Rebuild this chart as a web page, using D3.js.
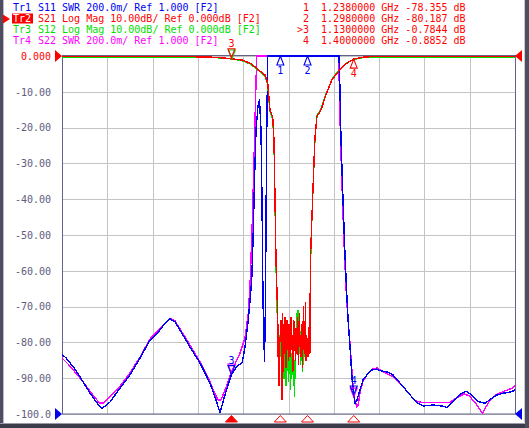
<!DOCTYPE html>
<html><head><meta charset="utf-8">
<script src="https://cdn.jsdelivr.net/npm/d3@7"></script>
<style>html,body{margin:0;padding:0;background:#fff;}svg{display:block;}text{font-family:"DejaVu Sans Mono",monospace;font-size:10px;}</style>
</head><body><svg id="c" width="529" height="428"></svg>
<script>
// ---------- data ----------
const freqStart = 0.756, freqStop = 1.756;           // GHz
const gridDivs = [0,1,2,3,4,5,6,7,8,9,10];
const dbTicks = [0,-10,-20,-30,-40,-50,-60,-70,-80,-90,-100];
const dbTickLabels = ["0.000","-10.00","-20.00","-30.00","-40.00","-50.00","-60.00","-70.00","-80.00","-90.00","-100.0"];

const headerTags = ["Tr1", "Tr2", "Tr3", "Tr4"];
const headerLines = [
  "S11 SWR 200.0m/ Ref 1.000 [F2]",
  "S21 Log Mag 10.00dB/ Ref 0.000dB [F2]",
  "S12 Log Mag 10.00dB/ Ref 0.000dB [F2]",
  "S22 SWR 200.0m/ Ref 1.000 [F2]"
];
const markerRows = [
  " 1  1.2380000 GHz -78.355 dB",
  " 2  1.2980000 GHz -80.187 dB",
  ">3  1.1300000 GHz -0.7844 dB",
  " 4  1.4000000 GHz -0.8852 dB"
];
const markerIds = ["1","2","3","4"];
const markerFreq = [1.238, 1.298, 1.13, 1.4];
const s21Marker = [-78.355, -80.187, -0.7844, -0.8852];
const s12Marker3 = -0.82;
const s11Marker = [null, null, 1.22, 1.106];
const s22Marker = [null, null, 1.235, 1.10];

// S11 (SWR)
const s11F = [0.756,0.7648,0.7737,0.7847,0.7957,0.8068,0.8178,0.8289,0.8377,0.8432,0.8487,0.8620,0.8840,0.9061,0.9282,0.9503,0.9723,0.9834,0.9944,1.0055,1.0165,1.0386,1.0606,1.0827,1.0960,1.1048,1.1137,1.1225,1.13,1.1423,1.1534,1.1600,1.1673,1.1711,1.1748,1.1777,1.1810,1.1843,1.1865,1.1887,1.1920,1.1953,1.1975,1.1997,1.2030,1.2052,1.2075,1.2101,1.2120,1.3650,1.3675,1.3697,1.3719,1.3763,1.3807,1.3845,1.3880,1.3918,1.3962,1.4,1.4028,1.4072,1.4138,1.4205,1.4293,1.4403,1.4514,1.4580,1.4735,1.4867,1.5022,1.5243,1.5419,1.5529,1.5750,1.5942,1.6052,1.6198,1.6383,1.6493,1.6604,1.6750,1.6898,1.7046,1.7156,1.7302,1.7487,1.756];
const s11V = [1.335,1.313,1.285,1.251,1.207,1.162,1.117,1.078,1.045,1.031,1.039,1.067,1.145,1.218,1.313,1.413,1.469,1.508,1.531,1.514,1.469,1.374,1.285,1.173,1.078,1.008,1.089,1.162,1.22,1.268,1.285,1.374,1.525,1.637,1.749,1.972,2.307,2.587,2.654,2.721,2.754,2.587,2.196,1.637,1.296,1.637,2.475,3.2,4.5,4.5,3.0,2.810,2.531,2.196,1.888,1.676,1.508,1.374,1.201,1.106,1.061,1.078,1.134,1.190,1.218,1.246,1.251,1.242,1.235,1.218,1.173,1.106,1.061,1.045,1.050,1.045,1.037,1.069,1.116,1.127,1.106,1.069,1.060,1.088,1.106,1.116,1.125,1.134];

// S22 (SWR)
const s22F = [0.756,0.7737,0.7957,0.8178,0.8311,0.8399,0.8465,0.8575,0.8840,0.9061,0.9282,0.9503,0.9723,0.9944,1.0055,1.0165,1.0386,1.0606,1.0827,1.0938,1.1004,1.1070,1.1159,1.1269,1.13,1.1380,1.1490,1.1600,1.1673,1.1711,1.1755,1.1799,1.1832,1.1859,1.1880,1.3660,1.3686,1.3708,1.3752,1.3796,1.3840,1.3874,1.3918,1.3962,1.4,1.4050,1.4072,1.4105,1.4139,1.4205,1.4293,1.4404,1.4514,1.4580,1.4867,1.5022,1.5243,1.5368,1.5514,1.6105,1.6252,1.6436,1.6546,1.6694,1.6840,1.6988,1.7136,1.7319,1.7503,1.756];
const s22V = [1.313,1.268,1.201,1.128,1.084,1.061,1.061,1.084,1.156,1.229,1.318,1.419,1.480,1.536,1.520,1.475,1.385,1.291,1.179,1.112,1.078,1.078,1.134,1.212,1.235,1.279,1.341,1.425,1.564,1.721,2.028,2.419,2.754,3.1,4.5,4.5,2.810,2.531,2.196,1.888,1.654,1.525,1.397,1.235,1.10,1.056,1.039,1.056,1.123,1.184,1.218,1.251,1.257,1.246,1.208,1.173,1.106,1.074,1.063,1.063,1.088,1.112,1.102,1.060,1.004,1.069,1.106,1.128,1.144,1.162];

// S21 (dB): pass-band / edges, and the noisy stop-band sweep
const s21LeftF = [0.756,0.80,0.85,0.90,0.95,1.00,1.05,1.08,1.10,1.115,1.13,1.1527,1.171,1.1821,1.1968,1.2041,1.2101,1.2114,1.2151,1.2211,1.2240,1.2262,1.2284];
const s21LeftV = [-0.2,-0.18,-0.15,-0.12,-0.15,-0.18,-0.22,-0.3,-0.42,-0.58,-0.7844,-1.1,-2.0,-3.0,-4.6,-5.3,-7.5,-9.5,-15.1,-17.0,-23.5,-40,-57];
const stopStart = 1.2306, stopStep = 0.0011;
const s21Stop = [-66,-71,-84,-75,-92,-79,-79,-78,-74,-86,-96,-72,-88,-79,-75,-83,-73,-81,-87,-78,-74,-82,-77,-85,-75,-80,-84,-76,-73,-82,-78,-81,-88,-77,-74,-80,-79,-85,-76,-78,-83,-73,-80,-86,-77,-72,-81,-78,-84,-75,-79,-87,-80,-70,-82,-77,-83,-69,-85,-78,-81,-80,-84,-76,-82,-79,-83];
const s21RightF = [1.3037,1.3052,1.3075,1.3108,1.3141,1.3185,1.3251,1.3295,1.3362,1.3428,1.3516,1.3582,1.3693,1.3847,1.4,1.4178,1.44,1.5,1.6,1.7,1.756];
const s21RightV = [-68.2,-54.2,-45.8,-34.6,-23.5,-17.0,-15.6,-14.5,-11.7,-9.5,-6.7,-5.6,-3.9,-2.0,-0.8852,-0.35,-0.18,-0.12,-0.12,-0.15,-0.2];

// S12 (dB)
const s12LeftF = [0.756,0.85,0.95,1.05,1.10,1.13,1.1527,1.171,1.1821,1.1968,1.2041,1.2101,1.2114,1.2151,1.2211,1.2240,1.2262,1.2284];
const s12LeftV = [-0.35,-0.3,-0.3,-0.35,-0.5,-0.82,-1.25,-2.2,-3.2,-4.8,-5.6,-8.0,-10.0,-15.5,-17.5,-24,-41,-58];
const s12Stop = [-70,-74,-79,-76,-82,-78,-84,-80,-77,-86,-81,-88,-79,-84,-90,-82,-86,-78,-92,-83,-87,-80,-85,-91,-82,-88,-84,-93,-86,-90,-83,-89,-84,-92,-87,-95,-85,-90,-80,-76,-72,-78,-71,-80,-74,-83,-77,-86,-79,-84,-81,-88,-82,-86,-80,-84,-82,-85,-83];
const s12RightF = [1.2990,1.3030,1.3040,1.3055,1.3078,1.3110,1.3145,1.3190,1.3255,1.3300,1.3370,1.3435,1.3520,1.3590,1.3700,1.3850,1.4,1.42,1.44,1.5,1.6,1.7,1.756];
const s12RightV = [-84,-82,-67,-53,-45,-34,-23,-16.6,-15.2,-14.0,-11.2,-9.2,-6.5,-5.3,-3.6,-1.9,-0.95,-0.45,-0.3,-0.25,-0.28,-0.3,-0.35];

// ---------- build ----------
const zip = (f, v) => f.map((d, i) => [d, v[i]]);
const sweep = (vals) => vals.map((v, i) => [stopStart + i * stopStep, v]);
const s21 = zip(s21LeftF, s21LeftV).concat(sweep(s21Stop), zip(s21RightF, s21RightV));
const s12 = zip(s12LeftF, s12LeftV).concat(sweep(s12Stop), zip(s12RightF, s12RightV));
const s11 = zip(s11F, s11V);
const s22 = zip(s22F, s22V);

const L = 62, R = 515, T = 56, B = 414;
const C = {blue:"#0000f0", red:"#ff0000", green:"#00e000", mag:"#ff00ff", frame:"#62628a", grid:"#c4c4c4", label:"#5c5c7c"};

const x = d3.scaleLinear().domain([freqStart, freqStop]).range([L, R]);
const yDb = d3.scaleLinear().domain([0, -100]).range([T, B]).clamp(true);
const ySwr = d3.scaleLinear().domain([1, 3]).range([B, T]).clamp(true);

const svg = d3.select("#c");
svg.append("rect").attr("width", 529).attr("height", 428).attr("fill", "#fff");

// window frame
svg.append("rect").attr("x", 0).attr("y", 0).attr("width", 3).attr("height", 428).attr("fill", "#4e4e60");
svg.append("rect").attr("x", 3).attr("y", 0).attr("width", 1).attr("height", 424).attr("fill", "#b8b8c8");
svg.append("rect").attr("x", 0).attr("y", 424).attr("width", 529).attr("height", 4).attr("fill", "#3c3c4a");
svg.append("rect").attr("x", 0).attr("y", 423).attr("width", 529).attr("height", 1).attr("fill", "#9a9aa8");
svg.append("rect").attr("x", 525).attr("y", 0).attr("width", 4).attr("height", 428).attr("fill", "#4e4e60");
svg.append("rect").attr("x", 524).attr("y", 0).attr("width", 1).attr("height", 424).attr("fill", "#c8c8d0");

// grid
const xGridVals = gridDivs.map(i => freqStart + i * (freqStop - freqStart) / 10);
const gx = svg.append("g").attr("transform", `translate(0,${B})`)
  .call(d3.axisBottom(x).tickValues(xGridVals).tickSize(-(B - T)).tickFormat(""));
gx.select(".domain").remove();
gx.selectAll("line").attr("stroke", C.grid).attr("shape-rendering", "crispEdges");
const gy = svg.append("g").attr("transform", `translate(${L},0)`)
  .call(d3.axisLeft(yDb).tickValues(dbTicks).tickSize(-(R - L)).tickFormat(""));
gy.select(".domain").remove();
gy.selectAll("line").attr("stroke", C.grid).attr("shape-rendering", "crispEdges");

// y labels
const yl = svg.append("g").attr("transform", `translate(${L},0)`)
  .call(d3.axisLeft(yDb).tickValues(dbTicks).tickSize(0).tickPadding(11).tickFormat((d, i) => dbTickLabels[i]));
yl.select(".domain").remove();
yl.selectAll("text").attr("font-family", "DejaVu Sans Mono").attr("font-size", 10)
  .attr("fill", (d) => d === 0 ? C.red : C.label);

// frame
svg.append("rect").attr("x", L + 0.5).attr("y", T - 0.5).attr("width", R - L).attr("height", B - T + 0.5)
  .attr("fill", "none").attr("stroke", C.frame).attr("stroke-width", 1);

// traces
svg.append("clipPath").attr("id", "pc").append("rect").attr("x", L).attr("y", T - 1).attr("width", R - L + 1).attr("height", B - T + 2);
const lineDb = d3.line().x(d => x(d[0])).y(d => yDb(d[1]));
const lineSwr = d3.line().x(d => x(d[0])).y(d => ySwr(d[1]));
const tg = svg.append("g").attr("clip-path", "url(#pc)");
const trace = (data, gen, col) => tg.append("path").datum(data).attr("d", gen).attr("fill", "none")
  .attr("stroke", col).attr("stroke-width", 1.4).attr("shape-rendering", "crispEdges").attr("stroke-linejoin", "round");
trace(s22, lineSwr, C.mag);
trace(s11, lineSwr, C.blue);
trace(s12, lineDb, C.green);
trace(s21, lineDb, C.red);

// markers
function downMarker(px, py, id, col) {
  svg.append("path").attr("d", `M${px - 3.5},${py - 9}L${px + 3.5},${py - 9}L${px},${py}Z`)
    .attr("fill", "none").attr("stroke", col).attr("stroke-width", 1.1);
  if (id) svg.append("text").attr("x", px).attr("y", py - 11).attr("text-anchor", "middle").attr("fill", col).text(id);
}
function upMarker(px, py, id, col) {
  svg.append("path").attr("d", `M${px},${py}L${px + 3.5},${py + 9}L${px - 3.5},${py + 9}Z`)
    .attr("fill", "none").attr("stroke", col).attr("stroke-width", 1.1);
  if (id) svg.append("text").attr("x", px).attr("y", py + 18).attr("text-anchor", "middle").attr("fill", col).text(id);
}
markerFreq.forEach((f, i) => {
  const px = x(f);
  if (s22Marker[i] !== null) downMarker(px, ySwr(s22Marker[i]) + 1, null, C.mag);
  if (s11Marker[i] !== null) downMarker(px, ySwr(s11Marker[i]), markerIds[i], C.blue);
  else upMarker(px, T, markerIds[i], C.blue);
});
downMarker(x(markerFreq[2]) + 0.5, yDb(s12Marker3), null, C.green);
downMarker(x(markerFreq[2]), yDb(s21Marker[2]) - 1, markerIds[2], C.red);
upMarker(x(markerFreq[3]), yDb(s21Marker[3]), markerIds[3], C.red);

// bottom marker row
markerFreq.forEach((f, i) => {
  const px = x(f);
  svg.append("path").attr("d", `M${px},${B + 1.5}L${px + 6},${B + 8}L${px - 6},${B + 8}Z`)
    .attr("fill", i === 2 ? C.red : "#fff").attr("stroke", C.red).attr("stroke-width", 1);
});

// reference triangles
const tri = (px, py, dir, col) => svg.append("path")
  .attr("d", dir > 0 ? `M${px - 7},${py - 6}L${px},${py}L${px - 7},${py + 6}Z` : `M${px + 7},${py - 6}L${px},${py}L${px + 7},${py + 6}Z`)
  .attr("fill", col);
tri(L, yDb(0), 1, C.red);
tri(L, ySwr(1), 1, C.blue);
tri(R, yDb(0), -1, C.red);
tri(R, ySwr(1), -1, C.blue);

// header
const hdrCols = [C.blue, C.red, C.green, C.mag];
svg.append("rect").attr("x", 12).attr("y", 13.5).attr("width", 21).attr("height", 10).attr("fill", C.red);
svg.append("path").attr("d", "M3,14.5L10,19L3,23.5Z").attr("fill", C.red);
headerLines.forEach((s, i) => {
  svg.append("text").attr("x", 13).attr("y", 11 + i * 10.9).attr("fill", i === 1 ? "#fff" : hdrCols[i]).text(headerTags[i]);
  svg.append("text").attr("x", 38).attr("y", 11 + i * 10.9).attr("fill", hdrCols[i]).text(s);
});

markerRows.forEach((s, i) => {
  svg.append("text").attr("x", 297).attr("y", 11 + i * 10.9).attr("fill", C.red)
    .attr("xml:space", "preserve").style("white-space", "pre").text(s);
});
</script></body></html>
